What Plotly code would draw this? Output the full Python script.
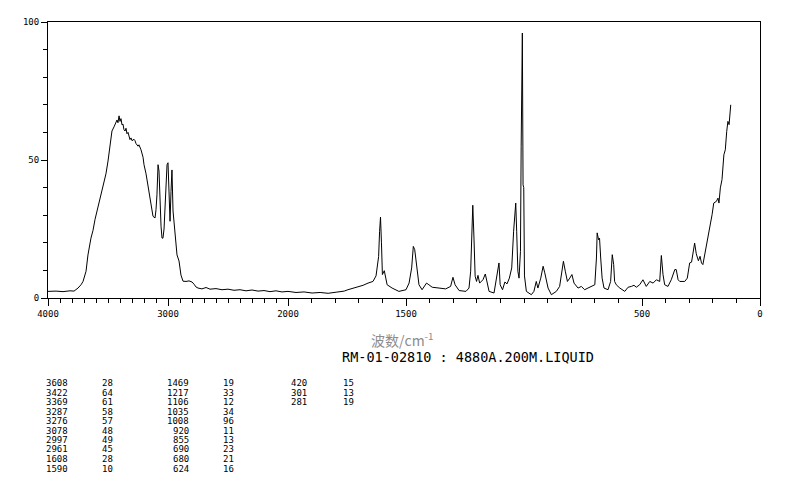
import plotly.graph_objects as go

# ---------------- data (wavenumber in cm-1, intensity in %) ----------------
# 4000-2000 cm-1 (O-H / C-H stretch region)
HIGH_WN = [4000, 3933, 3875, 3817, 3783, 3750, 3725, 3708, 3683, 3667,
           3642, 3625, 3608, 3583, 3567, 3550, 3533, 3517, 3500, 3483,
           3467, 3450, 3433, 3425, 3417, 3408, 3400, 3392, 3383, 3375,
           3367, 3358, 3350, 3342, 3333, 3317, 3308, 3300, 3283, 3275,
           3267, 3250, 3242, 3225, 3208, 3200, 3183, 3167, 3150, 3142,
           3125, 3108, 3100, 3092, 3083, 3075, 3067, 3058, 3050, 3042,
           3033, 3025, 3017, 3008, 3000, 2992, 2983, 2975, 2967, 2958,
           2950, 2942, 2933, 2925, 2908, 2900, 2892, 2875, 2850, 2825,
           2800, 2783, 2767, 2750, 2717, 2683, 2650, 2600, 2550, 2500,
           2450, 2400, 2350, 2300, 2250, 2200, 2150, 2100, 2050, 2000]
HIGH_I = [2.4, 2.5, 2.3, 2.6, 2.5, 3.6, 4.8, 6.0, 9.7, 15.6,
          21.7, 24.5, 28.5, 33.0, 36.0, 39.5, 43.0, 45.0, 49.6, 55.0,
          60.5, 62.0, 63.4, 64.5, 63.5, 66.0, 64.0, 65.0, 62.7, 63.0,
          61.0, 60.5, 61.5, 59.5, 60.0, 57.4, 58.0, 57.0, 57.5, 57.0,
          56.0, 55.0, 55.5, 53.7, 51.0, 48.3, 45.0, 41.0, 36.0, 33.8,
          29.6, 29.0, 32.0, 37.4, 48.3, 46.0, 32.6, 26.0, 21.7, 21.7,
          25.0, 32.6, 40.0, 48.3, 49.0, 38.6, 27.8, 38.6, 46.4, 31.5,
          27.0, 23.0, 19.0, 15.6, 13.4, 11.0, 8.3, 6.1, 6.0, 6.2,
          5.8, 5.0, 4.0, 3.6, 3.3, 3.8, 3.2, 3.4, 3.0, 3.2,
          2.8, 3.0, 2.6, 2.9, 2.5, 2.7, 2.3, 2.6, 2.2, 2.4]

# 2000-1500 cm-1
MID_WN = [1966, 1932, 1898, 1864, 1830, 1796, 1762, 1746, 1724, 1703,
          1682, 1661, 1640, 1627, 1616, 1612, 1608, 1604, 1600, 1592,
          1585, 1580, 1559, 1530]
MID_I = [2.0, 2.2, 1.8, 2.0, 1.7, 2.1, 2.5, 3.0, 3.5, 4.2,
         4.6, 5.4, 6.0, 8.0, 15.0, 24.0, 29.3, 20.0, 8.5, 9.9,
         7.2, 4.8, 3.6, 2.4]

# 1500-1000 cm-1
FP_WN = [1500, 1487, 1476, 1469, 1463, 1454, 1445, 1432, 1413, 1403,
         1389, 1360, 1332, 1311, 1301, 1292, 1275, 1246, 1233, 1226,
         1220, 1217, 1212, 1207, 1201, 1195, 1188, 1174, 1164, 1155,
         1148, 1127, 1116, 1106, 1101, 1091, 1081, 1072, 1062, 1052,
         1044, 1035, 1031, 1026, 1021, 1015, 1012, 1010, 1007, 1004,
         1001]
FP_I = [3.0, 5.4, 10.9, 18.7, 17.5, 10.9, 4.8, 3.0, 5.4, 4.8,
        3.9, 3.6, 3.3, 4.2, 7.5, 4.8, 2.7, 2.4, 3.6, 9.7,
        21.7, 33.6, 21.7, 7.9, 6.0, 8.2, 5.4, 6.6, 8.7, 4.8,
        2.4, 1.8, 7.9, 12.7, 4.8, 3.0, 5.8, 5.1, 7.2, 10.9,
        24.2, 34.4, 24.2, 9.7, 7.2, 16.9, 55.0, 96.0, 96.0, 41.0,
        40.0]

# 1000-500 cm-1
LOW_WN = [998, 990, 969, 958, 948, 941, 929, 919, 912, 898,
          884, 863, 849, 839, 833, 825, 816, 806, 797, 788,
          771, 757, 743, 729, 715, 700, 693, 690, 684, 680,
          675, 669, 661, 644, 633, 626, 620, 616, 609, 594,
          573, 559, 545, 534, 524, 510]
LOW_I = [8.0, 2.4, 1.2, 2.4, 6.0, 3.6, 7.2, 11.5, 9.1, 3.6,
         1.2, 2.4, 4.2, 9.7, 13.3, 9.7, 6.0, 7.2, 8.5, 5.4,
         3.6, 4.2, 3.0, 3.6, 4.2, 4.8, 14.5, 23.6, 21.1, 21.7,
         14.5, 7.2, 3.6, 3.0, 6.0, 15.7, 12.1, 6.0, 4.8, 3.6,
         2.4, 3.9, 4.2, 4.6, 3.9, 4.8]

# below 500 cm-1
FAR_WN = [496, 482, 467, 453, 439, 425, 418, 411, 404, 390,
          376, 361, 355, 347, 340, 319, 308, 298, 290, 277,
          270, 261, 254, 248, 242, 234, 223, 213, 203, 196,
          185, 178, 174, 168, 161, 153, 147, 141, 136, 131,
          128, 124]
FAR_I = [6.6, 4.2, 6.0, 5.4, 6.6, 6.0, 15.4, 8.5, 4.8, 4.2,
         6.6, 10.3, 10.3, 6.6, 6.0, 6.0, 7.2, 12.7, 13.0, 19.9,
         16.0, 13.5, 15.1, 12.7, 12.1, 15.7, 20.5, 25.4, 30.2, 34.4,
         35.0, 36.2, 34.4, 39.9, 42.9, 51.9, 53.7, 60.4, 64.0, 62.8,
         68.2, 70.0]

# axis ticks
MINOR_TICK_WN = list(range(4000, -1, -100))
LABELED_WN = [4000, 3000, 2000, 1500, 500, 0]
Y_MAJOR = [0, 50, 100]

# peak table
COL_A_WN = ["3608", "3422", "3369", "3287", "3276", "3078", "2997", "2961", "1608", "1590"]
COL_A_I = ["28", "64", "61", "58", "57", "48", "49", "45", "28", "10"]
COL_B_WN = ["1469", "1217", "1106", "1035", "1008", "920", "855", "690", "680", "624"]
COL_B_I = ["19", "33", "12", "34", "96", "11", "13", "23", "21", "16"]
COL_C_WN = ["420", "301", "281"]
COL_C_I = ["15", "13", "19"]

AXIS_TITLE = "波数/cm<sup>-1</sup>"
SAMPLE_TEXT = "RM-01-02810 : 4880A.200M.LIQUID"

# ---------------- build ----------------
segments = [(HIGH_WN, HIGH_I), (MID_WN, MID_I), (FP_WN, FP_I), (LOW_WN, LOW_I), (FAR_WN, FAR_I)]
wn, inten = [], []
for a, b in segments:
    if len(a) != len(b):
        raise ValueError("length mismatch %d %d" % (len(a), len(b)))
    wn += a
    inten += b

# broken wavenumber axis: region above 2000 cm-1 is compressed
BREAK = 2000
HIGH_SCALE = 240 / 472


def to_axis(w):
    return w if w <= BREAK else BREAK + (w - BREAK) * HIGH_SCALE


xs = [to_axis(w) for w in wn]

W, H = 794, 482
L, R, T, B = 40, 42, 14, 192
PW, PH = W - L - R, H - T - B


def px(xp):
    return (xp - L) / PW


def py(yp):
    return (T + PH - yp) / PH


fig = go.Figure()
fig.add_trace(go.Scatter(x=xs, y=inten, mode="lines",
                         line=dict(color="black", width=1),
                         hoverinfo="skip", showlegend=False))

tickfont = dict(family="DejaVu Sans Mono", size=9, color="black")
fig.update_xaxes(
    range=[to_axis(4000), 0],
    tickmode="array",
    tickvals=[to_axis(w) for w in LABELED_WN],
    ticktext=[str(w) for w in LABELED_WN],
    ticks="outside", ticklen=7, tickcolor="black", tickwidth=1,
    minor=dict(tickmode="array",
               tickvals=[to_axis(w) for w in MINOR_TICK_WN if w not in LABELED_WN],
               ticks="outside", ticklen=4, tickcolor="black", tickwidth=1,
               showgrid=False),
    showline=True, mirror=True, linecolor="black", linewidth=1,
    showgrid=False, zeroline=False, tickfont=tickfont, automargin=False,
)
fig.update_yaxes(
    range=[0, 100],
    tickmode="array", tickvals=Y_MAJOR, ticktext=[str(v) for v in Y_MAJOR],
    ticks="outside", ticklen=6, tickcolor="black", tickwidth=1,
    minor=dict(dtick=10, ticks="outside", ticklen=4, tickcolor="black",
               tickwidth=1, showgrid=False),
    showline=True, mirror=True, linecolor="black", linewidth=1,
    showgrid=False, zeroline=False, tickfont=tickfont, automargin=False,
)

ann = []
ann.append(dict(text=AXIS_TITLE, x=px(394), y=py(331), xref="paper", yref="paper",
                showarrow=False, xanchor="center", yanchor="middle",
                font=dict(family="Noto Sans CJK SC", size=14, color="#8c8c8c")))
ann.append(dict(text=SAMPLE_TEXT, x=px(460), y=py(349), xref="paper", yref="paper",
                showarrow=False, xanchor="center", yanchor="middle",
                font=dict(family="DejaVu Sans Mono", size=13.5, color="black")))

tfont = dict(family="DejaVu Sans Mono", size=9, color="black")
ROW0, ROWSTEP = 375, 9.5
cols = [(COL_A_WN, 62, "right"), (COL_A_I, 92, "left"),
        (COL_B_WN, 183, "right"), (COL_B_I, 213, "left"),
        (COL_C_WN, 301, "right"), (COL_C_I, 333, "left")]
for values, xpos, anchor in cols:
    for i, v in enumerate(values):
        ann.append(dict(text=v, x=px(xpos), y=py(ROW0 + ROWSTEP * i),
                        xref="paper", yref="paper", showarrow=False,
                        xanchor=anchor, yanchor="middle", font=tfont))

fig.update_layout(
    width=W, height=H,
    margin=dict(l=L, r=R, t=T, b=B, pad=0),
    paper_bgcolor="white", plot_bgcolor="white",
    annotations=ann, showlegend=False,
)

fig.write_html("out.html")
